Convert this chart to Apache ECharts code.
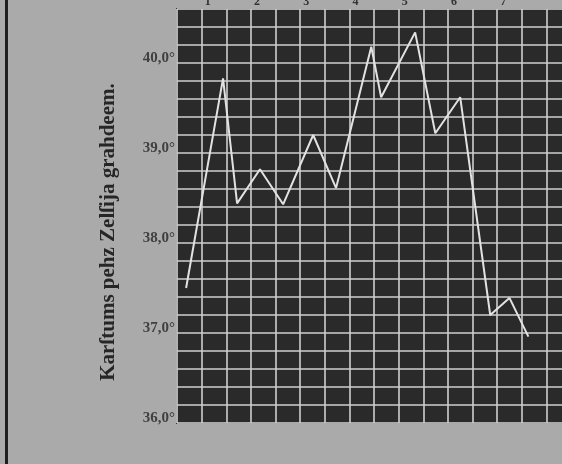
<!DOCTYPE html>
<html>
<head>
<meta charset="utf-8">
<script src="https://cdn.jsdelivr.net/npm/echarts@6/dist/echarts.min.js"></script>
<style>
html,body{margin:0;padding:0;background:#aaaaaa;}
#c{width:562px;height:464px;}
</style>
</head>
<body>
<div id="c"></div>
<script>
// Position along the time axis, in half-day grid columns
var pointX = [0.37, 1.87, 2.44, 3.37, 4.31, 5.53, 6.46, 7.89, 8.29, 9.67, 10.49, 11.50, 12.72, 13.50, 14.27];
// Temperature in degrees Celsius
var temps  = [37.50, 39.83, 38.44, 38.82, 38.43, 39.20, 38.61, 40.18, 39.62, 40.34, 39.22, 39.62, 37.20, 37.39, 36.96];
// Day labels along the top (one day = two columns)
var dayLabels = ['1', '2', '3', '4', '5', '6', '7'];
// Y tick labels (whole degrees)
var yTickValues = [36, 37, 38, 39, 40];
var yTickLabels = ['36,0°', '37,0°', '38,0°', '39,0°', '40,0°'];
var yTitle = 'Karſtums pehz Zelſija grahdeem.';

var chart = echarts.init(document.getElementById('c'));
var points = pointX.map(function (x, i) { return [x, temps[i]]; });

chart.setOption({
  backgroundColor: '#aaaaaa',
  animation: false,
  grid: {
    left: 177, top: 9, width: 394, height: 414,
    outerBoundsMode: 'none', containLabel: false,
    show: true, backgroundColor: '#2a2a2a', borderColor: '#3a3a3a', borderWidth: 2
  },
  xAxis: {
    type: 'value', position: 'top', min: 0, max: 16, interval: 1,
    axisLine: { show: false }, axisTick: { show: false },
    splitLine: { show: true, lineStyle: { color: '#cfcfcf', width: 1.6 } },
    axisLabel: {
      margin: 1, color: '#333', fontFamily: 'Liberation Serif', fontWeight: 'bold', fontSize: 12,
      padding: [0, 0, 0, 12],
      formatter: function (v) {
        if (v % 2 === 1) { return dayLabels[(v - 1) / 2] || ''; }
        return '';
      }
    }
  },
  yAxis: {
    type: 'value', min: 36, max: 40.6, interval: 0.2,
    axisLine: { show: false }, axisTick: { show: false },
    splitLine: { show: true, lineStyle: { color: '#cfcfcf', width: 1.6 } },
    axisLabel: {
      margin: 2, color: '#404040', fontFamily: 'Liberation Serif', fontWeight: 'bold', fontSize: 15,
      verticalAlign: 'bottom', lineHeight: 10,
      showMaxLabel: false,
      formatter: function (v) {
        for (var i = 0; i < yTickValues.length; i++) {
          if (Math.abs(v - yTickValues[i]) < 1e-6) return yTickLabels[i];
        }
        return '';
      }
    },
    name: yTitle, nameLocation: 'middle', nameRotate: 90, nameGap: 58,
    nameTextStyle: {
      color: '#262626', fontFamily: 'Liberation Serif', fontWeight: 'bold', fontSize: 21,
      padding: [0, 32, 0, 0]
    }
  },
  graphic: [
    { type: 'rect', shape: { x: 5, y: 0, width: 3, height: 464 }, style: { fill: '#1e1e1e' } }
  ],
  series: [{
    type: 'line', data: points, showSymbol: false, smooth: false,
    lineStyle: { color: '#e2e2e2', width: 2 }
  }]
});
</script>
</body>
</html>
